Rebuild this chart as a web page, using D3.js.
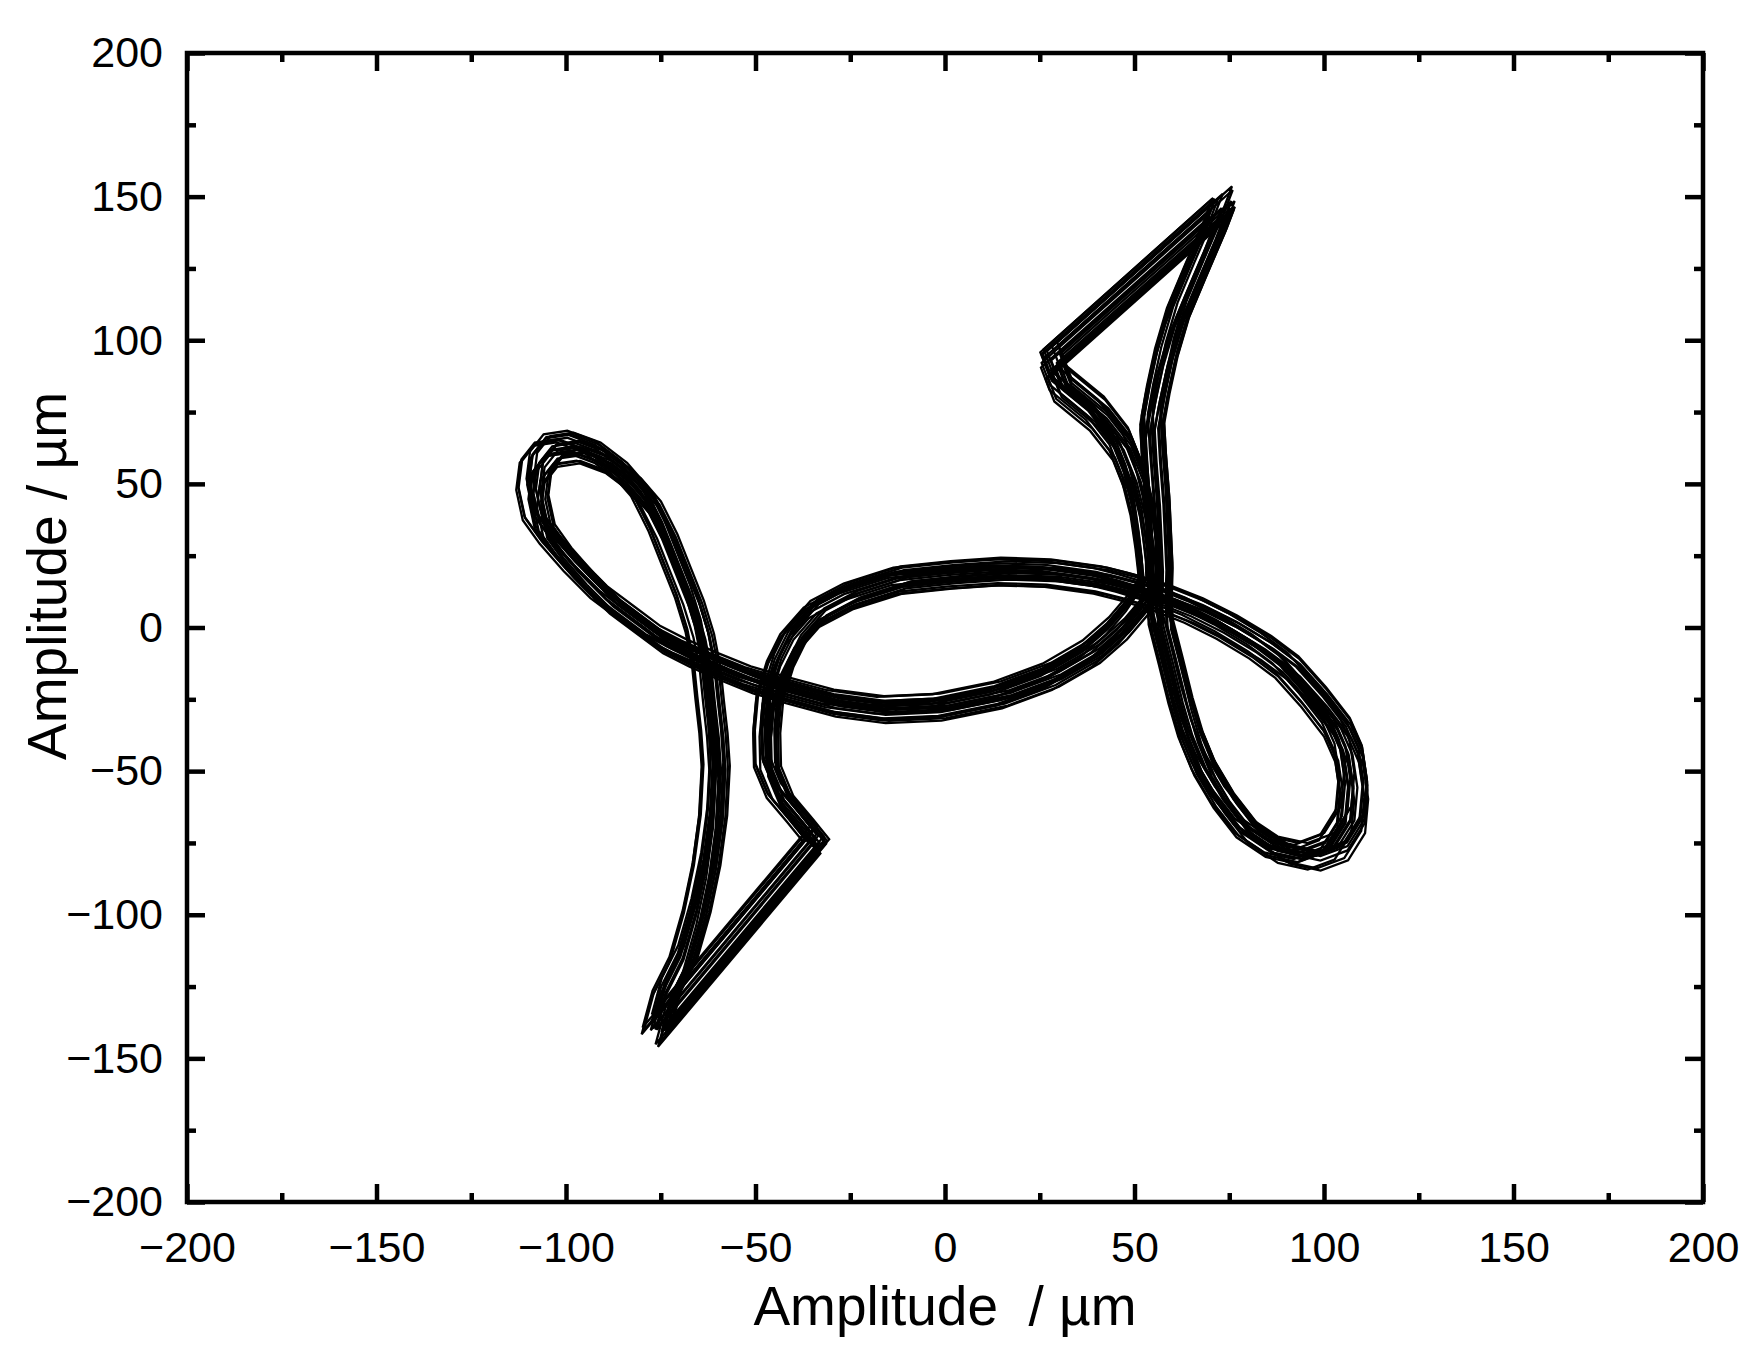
<!DOCTYPE html>
<html>
<head>
<meta charset="utf-8">
<script src="https://cdn.jsdelivr.net/npm/d3@7"></script>
<style>
  body { margin: 0; background: #fff; }
  text { font-family: "Liberation Sans", Arial, sans-serif; fill: #000; }
</style>
</head>
<body>
<div id="chart"></div>
<script>
// one cycle of the orbit (µm), starting at the top-right tip
const orbitX = [73.0, 70.8, 65.5, 61.1, 58.0, 55.9, 54.5, 55.0, 55.9, 56.3, 56.7, 56.5, 56.7, 59.4, 62.0, 64.6,
    68.2, 73.4, 79.6, 87.5, 95.4, 102.5, 106.9, 107.7, 106.4, 103.3, 97.2, 90.1, 83.1, 74.3, 65.5, 56.7,
    47.9, 40.9, 27.7, 14.5, 1.3, -11.9, -25.1, -33.9, -40.0, -43.5, -46.2, -47.0, -46.8, -43.5, -38.3, -34.0,
    -76.0, -73.4, -69.0, -65.5, -62.9, -61.1, -60.4, -61.0, -62.0, -62.9, -64.6, -67.3, -70.8, -74.3, -78.7, -84.0,
    -91.0, -98.1, -104.2, -107.7, -108.6, -106.9, -102.5, -96.3, -89.3, -82.2, -75.2, -68.2, -60.2, -51.4, -42.7, -29.5,
    -16.3, -1.5, 14.5, 27.7, 38.3, 45.3, 50.6, 54.1, 54.0, 53.2, 51.9, 49.7, 46.2, 40.0, 30.3, 28.0];
const orbitY = [146.0, 138.4, 122.1, 108.2, 94.3, 81.5, 71.1, 59.5, 44.4, 32.8, 21.2, 11.0, 2.6, -11.3, -25.2, -36.8,
    -48.4, -60.0, -70.5, -77.5, -79.8, -76.3, -67.0, -55.4, -43.8, -34.5, -24.1, -13.6, -6.7, 0.3, 6.1, 10.7,
    14.2, 16.5, 18.9, 19.5, 18.3, 16.5, 11.0, 4.9, -4.3, -13.6, -25.2, -36.8, -48.4, -58.9, -67.0, -74.0,
    -140.0, -127.3, -115.7, -99.5, -83.2, -65.8, -48.4, -36.8, -25.2, -13.6, -2.0, 9.6, 21.2, 32.8, 44.4, 52.5,
    59.5, 63.0, 61.8, 56.0, 46.7, 36.3, 28.2, 18.9, 9.6, 2.6, -4.3, -9.0, -13.6, -18.3, -21.7, -26.4,
    -28.7, -27.8, -23.5, -17.1, -9.0, -0.9, 7.3, 14.2, 20.0, 29.3, 40.9, 52.5, 64.1, 74.6, 85.1, 93.0];

// cycle-to-cycle drift, estimated from the width of the bands
const cycleDx = [0.0, 1.8, -1.5, 2.7, -2.4, 0.9, -0.7, 2.2, -2.9, 0.4, 2.9, -1.8, 1.3, -0.3, -2.6, 2.4,
    0.6, -1.2, 1.0, -2.0, 3.2, -3.1, 0.2, 1.6];
const cycleDy = [0.0, -3.2, 2.5, 1.0, -1.6, 3.9, -4.3, 1.7, 0.5, -2.1, -0.7, 4.4, 3.1, -3.6, 1.4, -1.0,
    -4.7, 2.8, -2.6, 0.8, -0.2, 2.0, 4.8, -1.4];
const cycleScale = [1.000, 1.020, 0.980, 1.010, 0.990, 1.025, 0.975, 1.005, 1.015, 0.985, 1.008, 0.994,
    1.022, 0.978, 1.012, 0.988, 0.997, 1.004, 1.018, 0.982, 0.993, 1.009, 1.001, 0.986];

const majorTicks = [-200, -150, -100, -50, 0, 50, 100, 150, 200];
const minorTicks = [-175, -125, -75, -25, 25, 75, 125, 175];

const xTitle = "Amplitude\u00a0\u00a0/ µm";
const yTitle = "Amplitude / µm";

// page + plot box
const W = 1764, H = 1354;
const plotL = 187, plotR = 1703, plotT = 53, plotB = 1202;

const svg = d3.select("#chart")
    .append("svg")
    .attr("width", W)
    .attr("height", H);

const x = d3.scaleLinear().domain([-200, 200]).range([plotL, plotR]);
const y = d3.scaleLinear().domain([-200, 200]).range([plotB, plotT]);

const fmt = d => d < 0 ? "\u2212" + Math.abs(d) : String(d);

// traces
const line = d3.line()
    .x(d => x(d[0]))
    .y(d => y(d[1]))
    .curve(d3.curveLinearClosed);

const cycles = cycleDx.map((dx, c) =>
    orbitX.map((v, i) => [v * cycleScale[c] + dx, orbitY[i] * cycleScale[c] + cycleDy[c]]));

svg.append("g")
    .selectAll("path")
    .data(cycles)
    .join("path")
    .attr("d", line)
    .attr("fill", "none")
    .attr("stroke", "#000")
    .attr("stroke-width", 2.3)
    .attr("stroke-linejoin", "miter");

// axes, ticks pointing inward on all four sides
function styleAxis(g, size) {
    g.select(".domain").remove();
    g.selectAll("line").attr("stroke", "#000").attr("stroke-width", 4.5);
    g.selectAll("text").attr("font-size", size).attr("font-family", "'Liberation Sans', Arial, sans-serif");
}

svg.append("g")
    .attr("transform", `translate(0,${plotB})`)
    .call(d3.axisBottom(x).tickValues(majorTicks).tickSizeInner(-18).tickSizeOuter(0).tickPadding(29).tickFormat(fmt))
    .call(g => styleAxis(g, 43));
svg.append("g")
    .attr("transform", `translate(0,${plotB})`)
    .call(d3.axisBottom(x).tickValues(minorTicks).tickSizeInner(-9).tickSizeOuter(0).tickFormat(""))
    .call(g => styleAxis(g, 0));

svg.append("g")
    .attr("transform", `translate(0,${plotT})`)
    .call(d3.axisTop(x).tickValues(majorTicks).tickSizeInner(-18).tickSizeOuter(0).tickFormat(""))
    .call(g => styleAxis(g, 0));
svg.append("g")
    .attr("transform", `translate(0,${plotT})`)
    .call(d3.axisTop(x).tickValues(minorTicks).tickSizeInner(-9).tickSizeOuter(0).tickFormat(""))
    .call(g => styleAxis(g, 0));

svg.append("g")
    .attr("transform", `translate(${plotL},0)`)
    .call(d3.axisLeft(y).tickValues(majorTicks).tickSizeInner(-18).tickSizeOuter(0).tickPadding(24).tickFormat(fmt))
    .call(g => styleAxis(g, 43));
svg.append("g")
    .attr("transform", `translate(${plotL},0)`)
    .call(d3.axisLeft(y).tickValues(minorTicks).tickSizeInner(-9).tickSizeOuter(0).tickFormat(""))
    .call(g => styleAxis(g, 0));

svg.append("g")
    .attr("transform", `translate(${plotR},0)`)
    .call(d3.axisRight(y).tickValues(majorTicks).tickSizeInner(-18).tickSizeOuter(0).tickFormat(""))
    .call(g => styleAxis(g, 0));
svg.append("g")
    .attr("transform", `translate(${plotR},0)`)
    .call(d3.axisRight(y).tickValues(minorTicks).tickSizeInner(-9).tickSizeOuter(0).tickFormat(""))
    .call(g => styleAxis(g, 0));

// frame
svg.append("rect")
    .attr("x", plotL)
    .attr("y", plotT)
    .attr("width", plotR - plotL)
    .attr("height", plotB - plotT)
    .attr("fill", "none")
    .attr("stroke", "#000")
    .attr("stroke-width", 4.5);

// titles
svg.append("text")
    .attr("x", (plotL + plotR) / 2)
    .attr("y", 1325)
    .attr("text-anchor", "middle")
    .attr("font-size", 55)
    .text(xTitle);

svg.append("text")
    .attr("transform", "translate(66,576) rotate(-90)")
    .attr("text-anchor", "middle")
    .attr("font-size", 55)
    .text(yTitle);
</script>
</body>
</html>
